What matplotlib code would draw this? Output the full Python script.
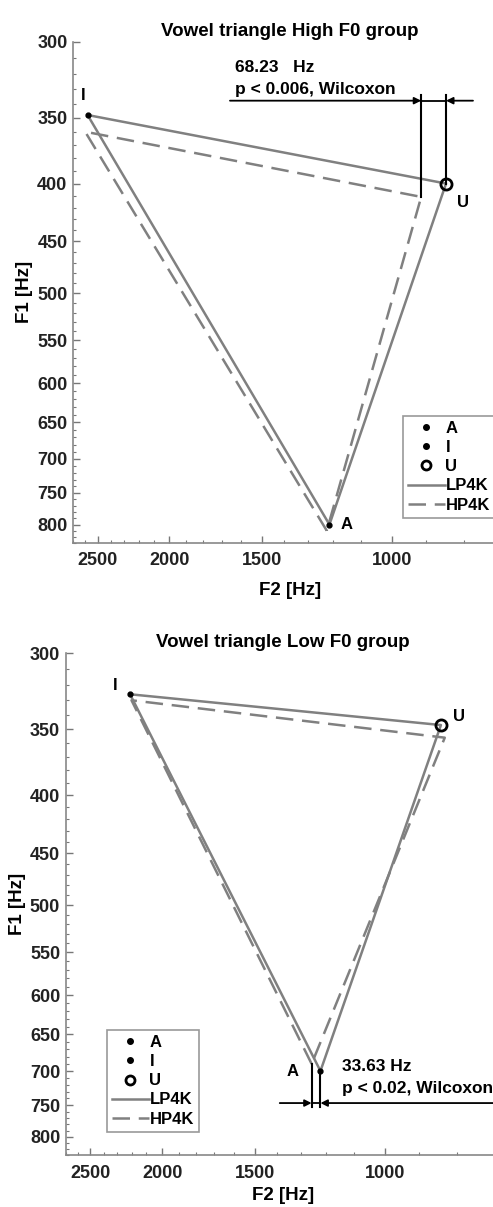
import matplotlib
matplotlib.use('Agg')
import matplotlib.pyplot as plt
import matplotlib.ticker as mticker
from matplotlib.lines import Line2D

plt.rcParams['font.family'] = ['Liberation Sans', 'DejaVu Sans']
plt.rcParams['font.weight'] = 'bold'

# vowel order: A, I, U
vowels = ['A', 'I', 'U']

high_lp_f2 = [1215, 2580, 845]
high_lp_f1 = [800, 348, 400]
high_hp_f2 = [1225, 2600, 913]
high_hp_f1 = [810, 360, 411]

low_lp_f2 = [1222, 2210, 840]
low_lp_f1 = [700, 326, 347]
low_hp_f2 = [1256, 2200, 830]
low_hp_f1 = [690, 330, 356]

high_diff = '68.23   Hz'
high_p = 'p < 0.006, Wilcoxon'
low_diff = '33.63 Hz'
low_p = 'p < 0.02, Wilcoxon'

f1_ticks = [300, 350, 400, 450, 500, 550, 600, 650, 700, 750, 800]
f2_ticks = [2500, 2000, 1500, 1000]

gray = '#808080'
dash = (0, (7, 3.5))
W, H = 493, 1207
fig = plt.figure(figsize=(W / 100, H / 100), dpi=100)


def px_axes(left, top, right, bottom):
    return fig.add_axes([left / W, 1 - bottom / H, (right - left) / W, (bottom - top) / H])


def setup(ax, title, xpad):
    ax.set_xscale('log')
    ax.set_yscale('log')
    ax.set_xlim(2700, 700)
    ax.set_ylim(830, 300)
    ax.xaxis.set_major_locator(mticker.FixedLocator(f2_ticks))
    ax.xaxis.set_major_formatter(mticker.FuncFormatter(lambda v, p: '%d' % v))
    ax.xaxis.set_minor_locator(mticker.FixedLocator(list(range(700, 2701, 100))))
    ax.xaxis.set_minor_formatter(mticker.NullFormatter())
    ax.yaxis.set_major_locator(mticker.FixedLocator(f1_ticks))
    ax.yaxis.set_major_formatter(mticker.FuncFormatter(lambda v, p: '%d' % v))
    ax.yaxis.set_minor_locator(mticker.FixedLocator(list(range(300, 831, 10))))
    ax.yaxis.set_minor_formatter(mticker.NullFormatter())
    ax.tick_params(which='both', direction='in', colors='#777777', labelcolor='#222222',
                   labelsize=13)
    ax.tick_params(which='major', length=5, width=1)
    ax.tick_params(which='minor', length=2.5, width=0.8)
    ax.tick_params(axis='x', pad=7)
    ax.tick_params(axis='y', pad=4)
    for lab in ax.get_xticklabels() + ax.get_yticklabels():
        lab.set_fontweight('bold')
    for s in ['top', 'right']:
        ax.spines[s].set_visible(False)
    for s in ['left', 'bottom']:
        ax.spines[s].set_color('#888888')
        ax.spines[s].set_linewidth(1.2)
    ax.set_title(title, fontsize=13.5, fontweight='bold', pad=4.5)
    ax.set_xlabel('F2 [Hz]', fontsize=13.5, fontweight='bold', labelpad=xpad)
    ax.set_ylabel('F1 [Hz]', fontsize=13.5, fontweight='bold', labelpad=3)


def triangle(ax, lp_f2, lp_f1, hp_f2, hp_f1):
    ax.plot(lp_f2 + lp_f2[:1], lp_f1 + lp_f1[:1], color=gray, lw=1.8)
    ax.plot(hp_f2 + hp_f2[:1], hp_f1 + hp_f1[:1], color=gray, lw=1.8, linestyle=dash)
    ax.plot(lp_f2[0], lp_f1[0], 'o', color='k', ms=3.5)
    ax.plot(lp_f2[1], lp_f1[1], 'o', color='k', ms=3.5)
    ax.plot(lp_f2[2], lp_f1[2], 'o', mfc='none', mec='k', ms=8, mew=2)


def arrow(ax, start, end):
    ax.annotate('', xy=end, xytext=start, annotation_clip=False,
                arrowprops=dict(arrowstyle='-|>', color='k', lw=1.3,
                                mutation_scale=10, shrinkA=0, shrinkB=0))


def legend(ax, x, y):
    handles = [
        Line2D([], [], marker='o', color='k', ls='none', ms=4),
        Line2D([], [], marker='o', color='k', ls='none', ms=4),
        Line2D([], [], marker='o', mfc='none', mec='k', ls='none', ms=6.5, mew=2),
        Line2D([], [], color=gray, lw=1.8),
        Line2D([], [], color=gray, lw=1.8, linestyle=dash),
    ]
    leg = ax.legend(handles, vowels + ['LP4K', 'HP4K'], loc='upper left',
                    bbox_to_anchor=(x / W, 1 - y / H), bbox_transform=fig.transFigure,
                    fancybox=False, framealpha=1, edgecolor='#999999',
                    prop={'weight': 'bold', 'size': 12}, handlelength=2.2,
                    handletextpad=0.05, labelspacing=0.25, borderpad=0.3,
                    borderaxespad=0)
    leg.get_frame().set_linewidth(1.2)


# ---- High F0 group
ax = px_axes(73, 42, 506.5, 542.7)
setup(ax, 'Vowel triangle High F0 group', 9)
triangle(ax, high_lp_f2, high_lp_f1, high_hp_f2, high_hp_f1)
offsets = [(12, 0), (-3, 14), (12, -14)]
for name, f2, f1, off in zip(vowels, high_lp_f2, high_lp_f1, offsets):
    ax.annotate(name, (f2, f1), xytext=off, textcoords='offset points',
                ha='center', va='center', fontsize=12, fontweight='bold')
ybar = 338
ax.plot([high_hp_f2[2], high_hp_f2[2]], [high_hp_f1[2], 334], color='k', lw=1.5)
ax.plot([high_lp_f2[2], high_lp_f2[2]], [high_lp_f1[2], 334], color='k', lw=1.5)
ax.plot([high_hp_f2[2], high_lp_f2[2]], [ybar, ybar], color='k', lw=1.3)
arrow(ax, (1656, ybar), (high_hp_f2[2], ybar))
arrow(ax, (777, ybar), (high_lp_f2[2], ybar))
ax.text(1630, 316, high_diff, ha='left', va='center', fontsize=12.5, fontweight='bold')
ax.text(1630, 330.5, high_p, ha='left', va='center', fontsize=12.5, fontweight='bold')
legend(ax, 403, 416)

# ---- Low F0 group
ax = px_axes(65.7, 653.3, 499.5, 1155)
setup(ax, 'Vowel triangle Low F0 group', 4)
triangle(ax, low_lp_f2, low_lp_f1, low_hp_f2, low_hp_f1)
offsets = [(-20, 0), (-11, 6), (13, 6)]
for name, f2, f1, off in zip(vowels, low_lp_f2, low_lp_f1, offsets):
    ax.annotate(name, (f2, f1), xytext=off, textcoords='offset points',
                ha='center', va='center', fontsize=12, fontweight='bold')
ybar = 747
ax.plot([low_hp_f2[0], low_hp_f2[0]], [low_hp_f1[0], 753], color='k', lw=1.5)
ax.plot([low_lp_f2[0], low_lp_f2[0]], [low_lp_f1[0], 753], color='k', lw=1.5)
ax.plot([low_hp_f2[0], low_lp_f2[0]], [ybar, ybar], color='k', lw=1.3)
arrow(ax, (1387, ybar), (low_hp_f2[0], ybar))
arrow(ax, (650, ybar), (low_lp_f2[0], ybar))
ax.text(1144, 693, low_diff, ha='left', va='center', fontsize=12.5, fontweight='bold')
ax.text(1144, 726, low_p, ha='left', va='center', fontsize=12.5, fontweight='bold')
legend(ax, 107, 1030)

fig.savefig('out.png', dpi=100)
